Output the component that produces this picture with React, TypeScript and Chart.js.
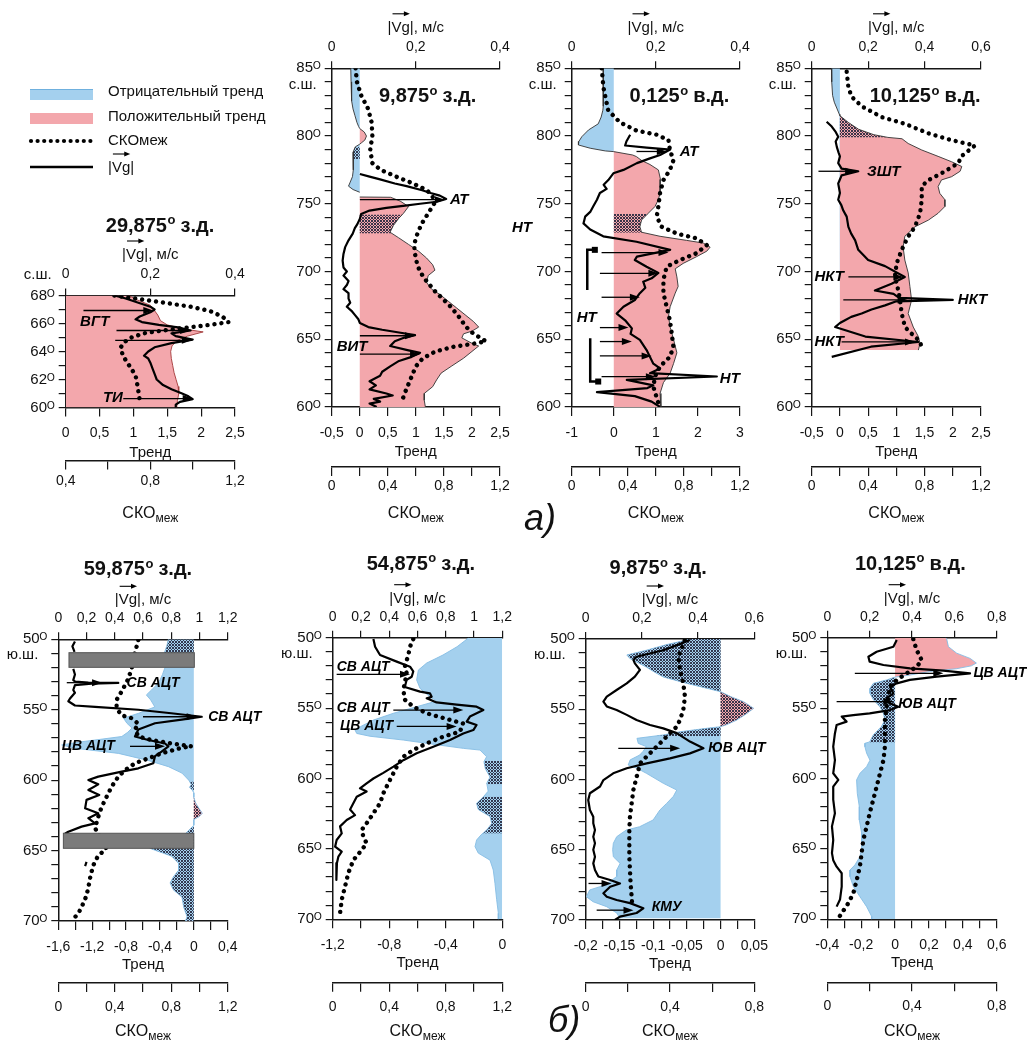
import React, { useEffect, useRef } from 'react';
import { Chart, registerables } from 'chart.js';

Chart.register(...registerables);

type Pt = [number, number | null];
type Arrow = [number, number, number];
type Label = [string, number, number];

// ===== а) 29,875 з.д. =====
const a1Trend: Pt[] = [[68.0, 0.93], [67.7, 1.05], [67.3, 1.25], [67.0, 1.3], [66.6, 1.36], [66.2, 1.4], [65.9, 1.5], [65.6, 1.75], [65.4, 2.03], [65.1, 1.8], [64.8, 1.65], [64.4, 1.57], [64.0, 1.55], [63.5, 1.56], [63.0, 1.58], [62.5, 1.6], [62.0, 1.63], [61.5, 1.66], [61.0, 1.67], [60.5, 1.65], [60.0, 1.64]];
const a1Vg: Pt[] = [[68.0, 0.115], [67.8, 0.14], [67.5, 0.17], [67.2, 0.2], [67.0, 0.21], [66.8, 0.2], [66.5, 0.175], [66.3, 0.165], [66.1, 0.18], [65.9, 0.22], [65.7, 0.27], [65.5, 0.295], [65.3, 0.25], [65.1, 0.26], [64.85, 0.3], [64.6, 0.25], [64.3, 0.21], [64.0, 0.195], [63.7, 0.185], [63.5, 0.195], [63.2, 0.2], [62.8, 0.205], [62.4, 0.21], [62.0, 0.215], [61.6, 0.23], [61.3, 0.25], [61.0, 0.275], [60.8, 0.29], [60.6, 0.3], [60.4, 0.27], [60.2, 0.26], [60.0, 0.26]];
const a1Sko: Pt[] = [[68.0, 0.63], [67.8, 0.72], [67.5, 0.86], [67.2, 0.99], [66.9, 1.08], [66.5, 1.14], [66.1, 1.17], [65.9, 1.08], [65.7, 0.97], [65.5, 0.86], [65.3, 0.77], [65.0, 0.71], [64.7, 0.68], [64.3, 0.66], [63.7, 0.67], [63.0, 0.7], [62.3, 0.73], [61.5, 0.74], [60.5, 0.75]];
const a1Hatch: [number, number][] = [];
const a1Arrows: Arrow[] = [[66.93, 0.042, 0.207], [65.5, 0.12, 0.294], [64.8, 0.117, 0.298], [60.64, 0.136, 0.3]];
const a1Labels: Label[] = [['ВГТ', 66.1, 0.034], ['ТИ', 60.7, 0.088]];
const a1LatTicks = [60, 68, 1, 2];
const a1VgTicks = [0, 0.4, 0.2, 0.2];
const a1TrendTicks = [0, 2.5, 0.5, 0.5];
const a1SkoTicks = [0.4, 1.2, 0.2, 0.4];

// ===== а) 9,875 з.д. =====
const a2Trend: Pt[] = [[85.0, -0.16], [84.0, -0.155], [83.0, -0.15], [82.6, -0.14], [82.0, -0.12], [81.5, -0.085], [81.0, -0.05], [80.7, -0.02], [80.55, 0], [80.3, 0.08], [80.0, 0.12], [79.7, 0.09], [79.5, 0.03], [79.4, 0], [79.2, -0.08], [78.8, -0.12], [78.0, -0.12], [77.5, -0.11], [77.0, -0.13], [76.6, -0.17], [76.3, -0.2], [76.05, -0.12], [75.85, 0], [75.8, null], [75.5, 0], [75.48, 0.55], [75.2, 0.72], [74.8, 0.87], [74.3, 0.78], [73.9, 0.69], [73.4, 0.6], [72.9, 0.54], [72.5, 0.69], [72.0, 0.87], [71.5, 1.05], [71.0, 1.19], [70.5, 1.3], [70.1, 1.34], [69.7, 1.22], [69.2, 1.19], [68.7, 1.28], [68.3, 1.43], [67.8, 1.58], [67.3, 1.73], [66.8, 1.88], [66.3, 2.03], [65.9, 2.12], [65.6, 2.0], [65.4, 1.85], [65.1, 1.82], [64.7, 2.0], [64.5, 2.12], [64.1, 2.0], [63.6, 1.85], [63.0, 1.63], [62.5, 1.45], [62.0, 1.37], [61.5, 1.3], [61.0, 1.15], [60.5, 1.15], [60.0, 1.17]];
const a2Vg: Pt[] = [[77.2, 0.067], [77.0, 0.09], [76.8, 0.115], [76.5, 0.15], [76.3, 0.178], [76.0, 0.215], [75.8, 0.235], [75.6, 0.257], [75.35, 0.272], [75.15, 0.25], [75.0, 0.21], [74.85, 0.17], [74.7, 0.13], [74.5, 0.09], [74.25, 0.07], [73.9, 0.067], [73.5, 0.061], [73.2, 0.055], [72.8, 0.05], [72.3, 0.04], [71.8, 0.032], [71.3, 0.028], [70.8, 0.026], [70.3, 0.028], [70.0, 0.036], [69.7, 0.028], [69.3, 0.04], [69.0, 0.036], [68.7, 0.028], [68.4, 0.04], [68.0, 0.04], [67.7, 0.044], [67.4, 0.036], [67.1, 0.047], [66.8, 0.055], [66.5, 0.063], [66.2, 0.067], [65.9, 0.087], [65.7, 0.12], [65.5, 0.16], [65.3, 0.198], [65.1, 0.17], [64.85, 0.15], [64.5, 0.139], [64.2, 0.18], [64.0, 0.21], [63.7, 0.19], [63.4, 0.16], [63.0, 0.139], [62.6, 0.12], [62.3, 0.115], [61.9, 0.09], [61.6, 0.105], [61.3, 0.09], [61.0, 0.13], [60.85, 0.145], [60.6, 0.1], [60.4, 0.115], [60.25, 0.09], [60.0, 0.107]];
const a2Sko: Pt[] = [[85, 0.17], [84, 0.18], [83, 0.21], [82, 0.26], [81, 0.285], [80, 0.29], [79, 0.275], [78, 0.29], [77.5, 0.35], [77, 0.46], [76.5, 0.58], [76, 0.68], [75.5, 0.72], [75, 0.73], [74.5, 0.7], [74, 0.67], [73.5, 0.64], [73, 0.62], [72.5, 0.6], [72, 0.59], [71.5, 0.59], [71, 0.6], [70.5, 0.61], [70, 0.63], [69.5, 0.66], [69, 0.7], [68.5, 0.74], [68, 0.79], [67.5, 0.84], [67, 0.88], [66.5, 0.92], [66, 0.95], [65.5, 1.0], [65.1, 1.06], [64.85, 1.1], [64.65, 1.0], [64.45, 0.87], [64.1, 0.74], [63.6, 0.65], [63, 0.6], [62, 0.56], [61, 0.52], [60.4, 0.5]];
const a2Hatch: [number, number][] = [[78.3, 79.2], [72.8, 74.2]];
const a2Arrows: Arrow[] = [[75.3, 0.067, 0.269], [65.26, 0.067, 0.198], [63.9, 0.067, 0.21]];
const a2Labels: Label[] = [['АТ', 75.28, 0.281], ['ВИТ', 64.45, 0.012]];
const a2LatTicks = [60, 85, 1, 5];
const a2VgTicks = [0, 0.4, 0.2, 0.2];
const a2TrendTicks = [-0.5, 2.5, 0.5, 0.5];
const a2SkoTicks = [0, 1.2, 0.2, 0.4];

// ===== а) 0,125 в.д. =====
const a3Trend: Pt[] = [[85.0, -0.25], [84.0, -0.25], [83.0, -0.25], [82.2, -0.25], [81.9, -0.26], [81.4, -0.3], [80.9, -0.37], [80.45, -0.6], [79.95, -0.76], [79.6, -0.83], [79.34, -0.84], [79.1, -0.56], [78.9, -0.2], [78.85, 0], [78.6, 0.45], [78.48, 0.54], [78.2, 0.66], [77.9, 0.86], [77.5, 1.06], [76.8, 1.11], [75.8, 1.1], [75.3, 1.06], [74.8, 0.98], [74.3, 0.82], [73.8, 0.66], [73.3, 0.62], [72.9, 0.66], [72.6, 1.1], [72.3, 1.73], [72.1, 2.13], [71.8, 2.29], [71.5, 2.21], [71.1, 1.97], [70.6, 1.65], [70.2, 1.46], [69.6, 1.5], [68.9, 1.53], [68.4, 1.46], [67.4, 1.34], [66.7, 1.3], [65.9, 1.34], [65.0, 1.42], [64.0, 1.5], [63.2, 1.42], [62.5, 1.34], [61.8, 1.18], [61.0, 1.1], [60.0, 1.12]];
const a3Vg: Pt[] = [[80.1, 0.139], [79.6, 0.13], [79.3, 0.127], [79.15, 0.178], [79.0, 0.234], [78.6, 0.21], [78.35, 0.186], [78.0, 0.155], [77.5, 0.123], [77.25, 0.099], [76.75, 0.087], [76.4, 0.076], [76.1, 0.083], [75.8, 0.067], [75.3, 0.06], [74.8, 0.051], [74.4, 0.044], [74.05, 0.032], [73.55, 0.028], [73.1, 0.044], [72.6, 0.075], [72.2, 0.154], [71.6, 0.234], [71.1, 0.155], [70.85, 0.15], [70.35, 0.178], [69.9, 0.206], [69.5, 0.19], [69.25, 0.17], [68.8, 0.175], [68.4, 0.162], [67.9, 0.15], [67.4, 0.123], [66.9, 0.107], [66.4, 0.127], [65.8, 0.143], [65.4, 0.14], [64.95, 0.162], [64.2, 0.178], [63.7, 0.186], [63.2, 0.194], [62.85, 0.21], [62.5, 0.186], [62.25, 0.345], [62.0, 0.131], [61.6, 0.194], [61.4, 0.18], [61.1, 0.06], [60.8, 0.15], [60.4, 0.19], [60.0, 0.21]];
const a3Sko: Pt[] = [[85, 0.214], [83.6, 0.226], [81.9, 0.26], [81.0, 0.345], [80.4, 0.463], [80.1, 0.606], [79.7, 0.69], [79.0, 0.7], [78.2, 0.725], [77.5, 0.7], [76.75, 0.654], [75.8, 0.63], [74.8, 0.618], [74.05, 0.606], [73.3, 0.642], [72.8, 0.749], [72.45, 0.89], [71.95, 0.963], [71.35, 0.89], [70.85, 0.772], [70.35, 0.677], [69.4, 0.654], [68.4, 0.654], [67.4, 0.677], [66.4, 0.7], [65.45, 0.713], [64.45, 0.725], [63.7, 0.7], [63.0, 0.63], [62.25, 0.594], [61.5, 0.582], [60.3, 0.618]];
const a3Hatch: [number, number][] = [[72.87, 74.25]];
const a3Arrows: Arrow[] = [[78.86, 0.154, 0.226], [71.4, 0.071, 0.23], [69.87, 0.067, 0.206], [68.1, 0.071, 0.162], [65.86, 0.067, 0.135], [64.83, 0.067, 0.143], [63.77, 0.067, 0.19], [62.24, 0.071, 0.2]];
const a3Labels: Label[] = [['АТ', 78.82, 0.257], ['НТ', 73.2, -0.142], ['НТ', 66.55, 0.012], ['НТ', 62.1, 0.352]];
const a3Brackets: number[][] = [[71.6, 68.64, 0.037, 0.055], [61.88, 65.07, 0.044, 0.063]];
const a3LatTicks = [60, 85, 1, 5];
const a3VgTicks = [0, 0.4, 0.2, 0.2];
const a3TrendTicks = [-1, 3, 1, 1];
const a3SkoTicks = [0, 1.2, 0.2, 0.4];

// ===== а) 10,125 в.д. =====
const a4Trend: Pt[] = [[85.0, -0.15], [84.0, -0.145], [83.0, -0.13], [82.5, -0.1], [82.0, -0.05], [81.6, -0.01], [81.5, 0], [81.0, 0.15], [80.5, 0.33], [80.1, 0.6], [79.9, 0.85], [79.8, 1.1], [79.45, 1.21], [78.97, 1.45], [78.5, 1.74], [78.1, 1.98], [77.75, 2.16], [77.4, 2.13], [77.0, 1.98], [76.76, 1.8], [76.27, 1.74], [75.77, 1.77], [75.3, 1.86], [74.8, 1.86], [74.3, 1.74], [73.8, 1.57], [73.3, 1.33], [72.6, 1.15], [71.8, 1.12], [70.85, 1.15], [69.9, 1.21], [68.9, 1.24], [67.9, 1.27], [66.9, 1.21], [65.9, 1.3], [65.2, 1.39], [64.7, 1.42], [64.2, 1.39]];
const a4Vg: Pt[] = [[81.06, 0.053], [80.7, 0.071], [80.3, 0.085], [79.95, 0.094], [79.6, 0.085], [79.2, 0.089], [78.8, 0.095], [78.5, 0.1], [78.0, 0.094], [77.6, 0.106], [77.4, 0.165], [77.1, 0.106], [76.5, 0.094], [75.8, 0.1], [75.3, 0.094], [74.9, 0.105], [74.5, 0.112], [74.05, 0.124], [73.3, 0.13], [72.8, 0.14], [72.3, 0.154], [71.6, 0.165], [70.85, 0.2], [70.4, 0.26], [69.6, 0.33], [69.1, 0.283], [68.6, 0.224], [68.35, 0.29], [68.05, 0.31], [67.9, 0.5], [67.8, 0.3], [67.5, 0.26], [67.2, 0.212], [66.9, 0.177], [66.65, 0.14], [66.4, 0.118], [66.2, 0.1], [65.9, 0.083], [65.2, 0.19], [64.8, 0.378], [64.45, 0.21], [63.7, 0.071]];
const a4Sko: Pt[] = [[84.75, 0.248], [83.6, 0.26], [82.9, 0.283], [82.2, 0.354], [81.4, 0.496], [80.9, 0.661], [80.2, 0.827], [79.7, 0.99], [79.3, 1.157], [78.5, 1.06], [78.0, 1.04], [77.25, 0.92], [76.75, 0.827], [76.3, 0.78], [75.3, 0.78], [74.3, 0.768], [73.3, 0.732], [72.6, 0.685], [71.6, 0.638], [70.6, 0.602], [69.6, 0.59], [68.6, 0.614], [67.9, 0.626], [66.9, 0.638], [65.9, 0.661], [65.4, 0.709], [64.95, 0.756], [64.3, 0.79]];
const a4Hatch: [number, number][] = [[79.9, 81.5]];
const a4Arrows: Arrow[] = [[77.4, 0.024, 0.154], [69.6, 0.13, 0.325], [67.9, 0.112, 0.34], [64.8, 0.106, 0.366]];
const a4Labels: Label[] = [['ЗШТ', 77.35, 0.196], ['НКТ', 69.6, 0.01], ['НКТ', 67.9, 0.518], ['НКТ', 64.8, 0.01]];
const a4LatTicks = [60, 85, 1, 5];
const a4VgTicks = [0, 0.6, 0.2, 0.2];
const a4TrendTicks = [-0.5, 2.5, 0.5, 0.5];
const a4SkoTicks = [0, 1.2, 0.2, 0.4];

// ===== б) 59,875 з.д. =====
const b1Trend: Pt[] = [[50.0, -0.3], [50.5, -0.32], [51.0, -0.35], [51.5, -0.35], [52.0, -0.34], [52.5, -0.37], [52.9, -0.4], [53.3, -0.45], [53.6, -0.5], [53.95, -0.56], [54.3, -0.51], [54.8, -0.46], [55.25, -0.65], [55.6, -0.83], [55.96, -0.79], [56.3, -0.73], [56.6, -0.78], [56.9, -0.85], [57.1, -1.1], [57.27, -1.32], [57.5, -1.56], [57.74, -1.4], [58.1, -0.89], [58.6, -0.54], [59.04, -0.3], [59.5, -0.14], [60.0, -0.06], [60.3, -0.03], [60.5, -0.05], [60.7, -0.02], [60.9, 0], [61.2, 0], [61.6, 0.02], [62.0, 0.06], [62.35, 0.1], [62.6, 0.06], [62.8, 0], [63.2, 0], [63.5, -0.05], [63.8, -0.1], [64.3, -0.3], [64.84, -0.52], [65.1, -0.4], [65.4, -0.26], [65.9, -0.18], [66.4, -0.18], [66.85, -0.24], [67.3, -0.28], [67.8, -0.24], [68.3, -0.14], [69.0, -0.12], [69.7, -0.08], [70.0, -0.1]];
const b1Vg: Pt[] = [[50.15, 0.118], [50.5, 0.1], [50.9, 0.115], [51.0, null], [52.1, 0.106], [52.5, 0.118], [52.9, 0.106], [53.0, 0.12], [53.08, 0.213], [53.1, 0.425], [53.15, 0.236], [53.25, 0.118], [53.6, 0.106], [53.8, 0.118], [54.2, 0.083], [54.4, 0.071], [54.7, 0.118], [54.8, 0.26], [55.0, 0.567], [55.25, 0.8], [55.5, 1.016], [55.7, 0.874], [55.96, 0.685], [56.4, 0.567], [56.9, 0.543], [57.15, 0.638], [57.4, 0.756], [57.6, 0.78], [57.98, 0.732], [58.3, 0.685], [58.8, 0.673], [59.16, 0.567], [59.4, 0.449], [59.75, 0.283], [59.99, 0.213], [60.3, 0.283], [60.7, 0.213], [61.05, 0.29], [61.4, 0.2], [62.0, 0.19], [62.35, 0.283], [62.7, 0.213], [63.07, 0.26], [63.3, 0.165], [63.66, 0.071], [63.8, 0.047], [63.9, null], [65.8, 0.2], [66.1, 0.19]];
const b1Sko: Pt[] = [[50.05, 0.567], [50.95, 0.543], [52.06, 0.52], [52.8, 0.496], [53.7, 0.449], [54.3, 0.413], [54.9, 0.413], [55.4, 0.449], [55.6, 0.52], [56.0, 0.567], [56.4, 0.543], [56.9, 0.567], [57.15, 0.661], [57.4, 0.803], [57.6, 0.945], [57.7, 0.874], [58.1, 0.732], [58.45, 0.638], [58.8, 0.543], [59.3, 0.472], [59.75, 0.425], [60.46, 0.378], [61.17, 0.343], [61.9, 0.307], [62.6, 0.283], [63.4, 0.26], [64.85, 0.34], [65.4, 0.28], [66.0, 0.25], [66.7, 0.23], [67.5, 0.215], [68.2, 0.2], [68.9, 0.17], [69.5, 0.14], [69.9, 0.1]];
const b1Hatch: [number, number][] = [[50.0, 51.0], [60.1, 60.7], [61.2, 62.8], [63.3, 70.0]];
const b1Arrows: Arrow[] = [[53.08, 0.06, 0.31], [55.5, 0.6, 0.98], [57.6, 0.508, 0.756]];
const b1Labels: Label[] = [['СВ АЦТ', 53.1, 0.484], ['СВ АЦТ', 55.54, 1.062], ['ЦВ АЦТ', 57.62, 0.024]];
const b1Bars: number[][] = [[50.95, 51.99, -1.474, 0.006], [63.77, 64.84, -1.54, 0.0]];
const b1LatTicks = [50, 70, 1, 5];
const b1VgTicks = [0, 1.2, 0.2, 0.2];
const b1TrendTicks = [-1.6, 0.4, 0.2, 0.4];
const b1SkoTicks = [0, 1.2, 0.2, 0.4];

// ===== б) 54,875 з.д. =====
const b2Trend: Pt[] = [[50.0, -0.24], [50.1, -0.25], [50.64, -0.32], [51.23, -0.42], [51.8, -0.535], [52.3, -0.594], [53.0, -0.606], [53.6, -0.582], [54.2, -0.512], [54.5, -0.465], [54.9, -0.606], [55.37, -0.771], [55.85, -0.912], [56.3, -1.0], [56.56, -1.042], [56.8, -1.03], [57.0, -0.936], [57.27, -0.7], [57.6, -0.465], [57.86, -0.276], [57.98, -0.158], [58.45, -0.111], [58.8, -0.13], [59.3, -0.12], [59.9, -0.087], [60.34, -0.11], [60.9, -0.1], [61.3, -0.134], [61.76, -0.182], [62.2, -0.17], [62.7, -0.087], [63.2, -0.075], [63.66, -0.111], [64.0, -0.15], [64.37, -0.182], [64.84, -0.193], [65.3, -0.17], [65.8, -0.087], [66.5, -0.064], [67.44, -0.052], [68.6, -0.04], [69.57, -0.028], [70.0, -0.028]];
const b2Vg: Pt[] = [[50.1, 0.288], [50.64, 0.3], [51.23, 0.335], [51.7, 0.453], [52.06, 0.547], [52.4, 0.57], [52.77, 0.559], [53.0, 0.523], [53.5, 0.51], [53.83, 0.618], [53.95, 0.688], [54.2, 0.7], [54.3, 0.665], [54.6, 0.735], [54.75, 0.877], [54.9, 1.018], [55.14, 1.066], [55.6, 0.971], [55.96, 0.948], [56.2, 1.018], [56.56, 0.995], [56.8, 0.924], [57.27, 0.83], [57.74, 0.712], [58.2, 0.594], [58.7, 0.5], [59.16, 0.43], [59.6, 0.358], [60.0, 0.288], [60.34, 0.24], [60.7, 0.193], [60.93, 0.24], [61.3, 0.17], [61.76, 0.146], [62.2, 0.123], [62.6, 0.158], [62.95, 0.099], [63.4, 0.052], [63.9, 0.064], [64.37, 0.028], [64.84, 0.017], [65.2, 0.064], [65.55, 0.04], [66.0, 0.03], [66.7, 0.024], [67.2, 0.028]];
const b2Sko: Pt[] = [[50.1, 0.57], [50.64, 0.547], [51.23, 0.535], [52.06, 0.51], [52.5, 0.523], [53.24, 0.51], [53.7, 0.5], [54.4, 0.51], [54.9, 0.57], [55.37, 0.665], [55.7, 0.783], [56.1, 0.924], [56.67, 0.9], [57.03, 0.783], [57.5, 0.665], [57.98, 0.57], [58.45, 0.5], [59.16, 0.453], [60.1, 0.405], [61.05, 0.358], [61.76, 0.335], [62.47, 0.288], [63.18, 0.24], [63.66, 0.205], [64.13, 0.217], [64.6, 0.24], [65.08, 0.205], [65.8, 0.146], [66.7, 0.111], [67.68, 0.087], [68.6, 0.064], [69.57, 0.052]];
const b2Hatch: [number, number][] = [[58.76, 60.4], [61.3, 63.9]];
const b2Arrows: Arrow[] = [[52.6, 0.028, 0.547], [55.14, 0.429, 0.924], [56.3, 0.453, 0.877]];
const b2Labels: Label[] = [['СВ АЦТ', 52.06, 0.028], ['СВ АЦТ', 55.0, 0.028], ['ЦВ АЦТ', 56.3, 0.052]];
const b2LatTicks = [50, 70, 1, 5];
const b2VgTicks = [0, 1.2, 0.2, 0.2];
const b2TrendTicks = [-1.2, 0, 0.2, 0.4];
const b2SkoTicks = [0, 1.2, 0.2, 0.4];

// ===== б) 9,875 з.д. =====
const b3Trend: Pt[] = [[50.0, -0.048], [50.07, -0.05], [50.4, -0.08], [50.8, -0.11], [51.14, -0.139], [51.4, -0.134], [52.0, -0.11], [52.3, -0.1], [52.7, -0.085], [53.16, -0.05], [53.5, -0.021], [53.75, 0], [54.1, 0.015], [54.46, 0.034], [54.93, 0.049], [55.3, 0.039], [55.77, 0.024], [56.1, 0.009], [56.24, 0], [56.36, -0.021], [56.6, -0.06], [56.83, -0.085], [57.07, -0.124], [57.43, -0.122], [57.66, -0.11], [58.0, -0.115], [58.26, -0.12], [58.6, -0.134], [58.97, -0.137], [59.2, -0.124], [59.56, -0.11], [60.27, -0.085], [60.75, -0.065], [61.2, -0.07], [61.7, -0.08], [62.17, -0.09], [62.88, -0.1], [63.36, -0.12], [63.6, -0.14], [64.07, -0.154], [64.54, -0.159], [65.0, -0.16], [65.5, -0.159], [65.97, -0.149], [66.44, -0.154], [66.9, -0.154], [67.27, -0.164], [67.63, -0.179], [67.86, -0.194], [68.34, -0.199], [68.7, -0.189], [69.05, -0.169], [69.5, -0.154], [69.9, -0.149]];
const b3Vg: Pt[] = [[50.07, 0.371], [50.4, 0.33], [50.8, 0.276], [51.26, 0.181], [51.5, 0.17], [51.73, 0.175], [52.2, 0.193], [52.68, 0.175], [53.16, 0.146], [53.63, 0.11], [54.1, 0.075], [54.46, 0.063], [54.8, 0.075], [55.05, 0.11], [55.4, 0.146], [55.77, 0.181], [56.12, 0.229], [56.36, 0.276], [56.7, 0.324], [57.3, 0.371], [57.78, 0.419], [58.14, 0.371], [58.5, 0.3], [58.85, 0.217], [59.2, 0.146], [59.56, 0.098], [60.04, 0.063], [60.5, 0.051], [60.98, 0.015], [61.46, 0.009], [62.17, 0.015], [62.65, 0.027], [63.12, 0.027], [63.6, 0.033], [64.07, 0.027], [64.54, 0.033], [65.0, 0.027], [65.5, 0.033], [65.97, 0.027], [66.44, 0.033], [66.9, 0.045], [67.15, 0.087], [67.4, 0.122], [67.63, 0.087], [68.1, 0.063], [68.34, 0.075], [68.58, 0.11], [68.8, 0.158], [69.17, 0.205], [69.5, 0.181], [69.76, 0.122], [70.0, 0.104]];
const b3Sko: Pt[] = [[50.1, 0.47], [51.26, 0.44], [52.2, 0.447], [53.16, 0.463], [54.1, 0.471], [55.05, 0.463], [55.77, 0.447], [56.24, 0.432], [56.95, 0.384], [57.66, 0.337], [58.37, 0.289], [58.85, 0.258], [59.8, 0.242], [60.75, 0.226], [61.7, 0.218], [62.65, 0.21], [63.6, 0.207], [64.54, 0.207], [65.5, 0.207], [66.44, 0.21], [67.4, 0.213], [68.34, 0.218], [69.05, 0.221]];
const b3Hatch: [number, number][] = [[50.0, 56.9]];
const b3Arrows: Arrow[] = [[57.78, 0.116, 0.336], [67.4, 0.01, 0.092], [69.3, 0.039, 0.17]];
const b3Labels: Label[] = [['ЮВ АЦТ', 57.78, 0.436], ['КМУ', 69.05, 0.235]];
const b3LatTicks = [50, 70, 1, 5];
const b3VgTicks = [0, 0.6, 0.2, 0.2];
const b3TrendTicks = [-0.2, 0.05, 0.025, 0.05];
const b3SkoTicks = [0, 0.8, 0.2, 0.4];

// ===== б) 10,125 в.д. =====
const b4Trend: Pt[] = [[50.0, 0.3], [50.1, 0.305], [50.64, 0.315], [51.1, 0.364], [51.47, 0.443], [51.8, 0.48], [52.0, 0.45], [52.2, 0.364], [52.4, 0.205], [52.65, 0.088], [52.8, 0], [53.0, -0.05], [53.24, -0.128], [53.6, -0.148], [53.95, -0.148], [54.4, -0.128], [54.9, -0.089], [55.37, -0.069], [55.85, -0.06], [56.3, -0.08], [56.9, -0.128], [57.4, -0.15], [57.5, -0.178], [57.74, -0.178], [58.2, -0.168], [58.7, -0.148], [59.16, -0.168], [59.63, -0.207], [60.1, -0.227], [61.05, -0.223], [62.0, -0.211], [62.95, -0.211], [63.9, -0.197], [64.84, -0.197], [65.55, -0.207], [66.14, -0.237], [66.5, -0.266], [66.97, -0.266], [67.68, -0.246], [68.4, -0.207], [69.1, -0.168], [69.8, -0.138], [70.0, -0.138]];
const b4Vg: Pt[] = [[50.17, 0.328], [50.64, 0.312], [51.0, 0.233], [51.35, 0.194], [51.7, 0.2], [51.94, 0.265], [52.18, 0.39], [52.34, 0.548], [52.53, 0.674], [52.77, 0.517], [53.0, 0.39], [53.24, 0.328], [53.48, 0.296], [53.95, 0.312], [54.3, 0.28], [54.66, 0.296], [54.9, 0.335], [55.14, 0.296], [55.37, 0.2], [55.5, 0.123], [55.6, 0.068], [55.96, 0.091], [56.2, 0.044], [56.8, 0.036], [57.74, 0.028], [58.7, 0.036], [59.63, 0.028], [60.1, 0.052], [60.58, 0.028], [61.5, 0.028], [62.47, 0.036], [63.4, 0.022], [64.37, 0.028], [65.3, 0.022], [65.8, 0.028], [66.26, 0.044], [66.73, 0.068], [67.68, 0.068], [68.6, 0.06], [69.1, 0.044]];
const b4Sko: Pt[] = [[50.1, 0.406], [50.88, 0.422], [51.6, 0.446], [52.06, 0.422], [52.53, 0.375], [53.0, 0.328], [53.48, 0.296], [54.2, 0.288], [54.9, 0.28], [55.85, 0.272], [56.8, 0.272], [57.74, 0.272], [58.7, 0.265], [59.63, 0.249], [60.58, 0.233], [61.5, 0.217], [62.47, 0.2], [63.4, 0.186], [64.37, 0.17], [65.3, 0.162], [66.26, 0.154], [67.2, 0.139], [68.15, 0.123], [68.86, 0.099], [69.57, 0.068], [69.93, 0.052]];
const b4Hatch: [number, number][] = [[52.8, 57.45]];
const b4Arrows: Arrow[] = [[52.53, 0.13, 0.548], [54.54, 0.044, 0.312]];
const b4Labels: Label[] = [['ЦВ АЦТ', 52.53, 0.69], ['ЮВ АЦТ', 54.73, 0.335]];
const b4LatTicks = [50, 70, 1, 5];
const b4VgTicks = [0, 0.8, 0.2, 0.2];
const b4TrendTicks = [-0.4, 0.6, 0.1, 0.2];
const b4SkoTicks = [0, 0.8, 0.2, 0.4];

// ===== styles / layout =====
const FONT = '"Liberation Sans", Arial, Helvetica, sans-serif';
const INK = '#161616';
const BLUE = '#a4d0ee';
const RED = '#f3a7ac';

const fmt = (v: number) => String(Math.round(v * 1000) / 1000).replace('.', ',');
const isMult = (v: number, s: number) => Math.abs(v / s - Math.round(v / s)) < 1e-6;

function splitSign(src: Pt[], sign: number) {
  const out: any[] = [];
  for (let i = 0; i < src.length; i++) {
    const [lat, v] = src[i];
    if (v === null) { out.push({ x: null, y: lat }); continue; }
    if (i > 0) {
      const [pl, pv] = src[i - 1];
      if (pv !== null && pv * v < 0) {
        const t = pv / (pv - v);
        out.push({ x: 0, y: pl + t * (lat - pl) });
      }
    }
    out.push({ x: sign > 0 ? Math.max(v, 0) : Math.min(v, 0), y: lat });
  }
  return out;
}

function clipRange(src: Pt[], a: number, b: number) {
  const lo = Math.min(a, b), hi = Math.max(a, b);
  const out: any[] = [];
  for (let i = 0; i < src.length; i++) {
    const [lat, v] = src[i];
    if (i > 0) {
      const [pl, pv] = src[i - 1];
      if (pv !== null && v !== null) {
        const cr: [number, number][] = [];
        for (const e of [lo, hi]) {
          if ((pl - e) * (lat - e) < 0) cr.push([(e - pl) / (lat - pl), e]);
        }
        cr.sort((p, q) => p[0] - q[0]);
        for (const [t, e] of cr) out.push({ x: pv + t * (v - pv), y: e });
      }
    }
    if (v !== null && lat >= lo - 1e-9 && lat <= hi + 1e-9) out.push({ x: v, y: lat });
  }
  return out;
}

function hatchPattern(): any {
  const c = document.createElement('canvas');
  c.width = 3; c.height = 3;
  const g = c.getContext('2d')!;
  g.fillStyle = 'rgba(38,40,62,0.9)';
  for (const [x, y] of [[0, 0], [1, 1], [2, 2], [1, 2], [2, 1]]) g.fillRect(x, y, 1, 1);
  return g.createPattern(c, 'repeat');
}

function drawArrow(ctx: CanvasRenderingContext2D, x1: number, y: number, x2: number, lw = 1.3, hl = 10, hw = 3.5) {
  const d = Math.sign(x2 - x1) || 1;
  ctx.beginPath();
  ctx.moveTo(x1, y);
  ctx.lineTo(x2 - d * hl * 0.7, y);
  ctx.lineWidth = lw;
  ctx.strokeStyle = '#000';
  ctx.stroke();
  ctx.beginPath();
  ctx.moveTo(x2, y);
  ctx.lineTo(x2 - d * hl, y - hw);
  ctx.lineTo(x2 - d * hl, y + hw);
  ctx.closePath();
  ctx.fillStyle = '#000';
  ctx.fill();
}

function drawVgText(ctx: CanvasRenderingContext2D, text: string, x: number, y: number, align: 'center' | 'left', size: number) {
  ctx.font = `${size}px ${FONT}`;
  const w = ctx.measureText(text).width;
  const wp = ctx.measureText('|').width;
  const wv = ctx.measureText('Vg').width;
  const x0 = align === 'center' ? x - w / 2 : x;
  ctx.textAlign = 'left';
  ctx.textBaseline = 'middle';
  ctx.fillStyle = '#111';
  ctx.fillText(text, x0, y);
  const ax = x0 + wp + 1;
  drawArrow(ctx, ax, y - 14, ax + wv - 1, 1.1, 6, 2.5);
}

function drawDegTitle(ctx: CanvasRenderingContext2D, main: string, suffix: string, cx: number, cy: number) {
  const size = 20;
  ctx.font = `bold ${size}px ${FONT}`;
  const w1 = ctx.measureText(main).width;
  const w3 = ctx.measureText(' ' + suffix).width;
  ctx.font = `bold 13px ${FONT}`;
  const w2 = ctx.measureText('o').width;
  let x = cx - (w1 + w2 + w3) / 2;
  const base = cy + 7;
  ctx.textAlign = 'left';
  ctx.textBaseline = 'alphabetic';
  ctx.fillStyle = '#111';
  ctx.font = `bold ${size}px ${FONT}`;
  ctx.fillText(main, x, base);
  x += w1;
  ctx.font = `bold 13px ${FONT}`;
  ctx.fillText('o', x + 0.5, base - 7.5);
  x += w2;
  ctx.font = `bold ${size}px ${FONT}`;
  ctx.fillText(' ' + suffix, x, base);
}

interface Panel {
  id: string; title: [string, string]; north: boolean;
  trend: Pt[]; vg: Pt[]; sko: Pt[]; hatch: [number, number][]; arrows: Arrow[]; labels: Label[];
  latT: number[]; vgT: number[]; trT: number[]; skT: number[];
  bars?: number[][]; brackets?: number[][];
  box: number[]; area: number[];
  hTop: number; hTrend: number; tt: number; hSko: number; skoPad: number; skoTitle: number;
  titlePos: number[]; hemi: number[]; edge: string; edgeW: number; legend?: boolean; labelSize: number;
}

const TOP = { hTop: 48, hSko: 60, edgeW: 0.9, labelSize: 15, north: true };
const BOT = { hTop: 46.5, hSko: 58, edgeW: 0.9, labelSize: 14, north: false, skoPad: 6.5, skoTitle: 49, hemi: [-20, 16], edge: '#86bde4' };

const panels: Panel[] = [
  { ...TOP, id: 'a1', title: ['29,875', 'з.д.'], trend: a1Trend, vg: a1Vg, sko: a1Sko, hatch: a1Hatch, arrows: a1Arrows, labels: a1Labels, latT: a1LatTicks, vgT: a1VgTicks, trT: a1TrendTicks, skT: a1SkoTicks, box: [0, 0, 285, 545], area: [65.7, 295.5, 235, 407.5], hTrend: 53, tt: 45.5, skoPad: 3, skoTitle: 53, titlePos: [0.557, -71], hemi: [-14, -21], edge: '#a33a3a', legend: true },
  { ...TOP, id: 'a2', title: ['9,875', 'з.д.'], trend: a2Trend, vg: a2Vg, sko: a2Sko, hatch: a2Hatch, arrows: a2Arrows, labels: a2Labels, latT: a2LatTicks, vgT: a2VgTicks, trT: a2TrendTicks, skT: a2SkoTicks, box: [280, 0, 250, 545], area: [331.7, 68.3, 500, 407], hTrend: 60, tt: 45, skoPad: 2, skoTitle: 47, titlePos: [0.57, 27], hemi: [-15, 17], edge: '#333' },
  { ...TOP, id: 'a3', title: ['0,125', 'в.д.'], trend: a3Trend, vg: a3Vg, sko: a3Sko, hatch: a3Hatch, arrows: a3Arrows, labels: a3Labels, brackets: a3Brackets, latT: a3LatTicks, vgT: a3VgTicks, trT: a3TrendTicks, skT: a3SkoTicks, box: [505, 0, 265, 545], area: [571.7, 68.3, 740, 407], hTrend: 60, tt: 45, skoPad: 2, skoTitle: 47, titlePos: [0.64, 27], hemi: [-15, 17], edge: '#333' },
  { ...TOP, id: 'a4', title: ['10,125', 'в.д.'], trend: a4Trend, vg: a4Vg, sko: a4Sko, hatch: a4Hatch, arrows: a4Arrows, labels: a4Labels, latT: a4LatTicks, vgT: a4VgTicks, trT: a4TrendTicks, skT: a4SkoTicks, box: [760, 0, 267, 545], area: [811.7, 68.3, 981, 407], hTrend: 60, tt: 45, skoPad: 2, skoTitle: 47, titlePos: [0.67, 27], hemi: [-15, 17], edge: '#333' },
  { ...BOT, id: 'b1', title: ['59,875', 'з.д.'], trend: b1Trend, vg: b1Vg, sko: b1Sko, hatch: b1Hatch, arrows: b1Arrows, labels: b1Labels, bars: b1Bars, latT: b1LatTicks, vgT: b1VgTicks, trT: b1TrendTicks, skT: b1SkoTicks, box: [0, 535, 285, 508], area: [58.3, 639.3, 227.7, 921], hTrend: 62, tt: 44, titlePos: [0.47, -71] },
  { ...BOT, id: 'b2', title: ['54,875', 'з.д.'], trend: b2Trend, vg: b2Vg, sko: b2Sko, hatch: b2Hatch, arrows: b2Arrows, labels: b2Labels, latT: b2LatTicks, vgT: b2VgTicks, trT: b2TrendTicks, skT: b2SkoTicks, box: [265, 535, 260, 508], area: [332.7, 637.7, 502.3, 919.3], hTrend: 63.5, tt: 44, titlePos: [0.52, -75] },
  { ...BOT, id: 'b3', title: ['9,875', 'з.д.'], trend: b3Trend, vg: b3Vg, sko: b3Sko, hatch: b3Hatch, arrows: b3Arrows, labels: b3Labels, latT: b3LatTicks, vgT: b3VgTicks, trT: b3TrendTicks, skT: b3SkoTicks, box: [515, 535, 265, 508], area: [585.7, 639, 754.3, 920], hTrend: 63, tt: 44, titlePos: [0.43, -72] },
  { ...BOT, id: 'b4', title: ['10,125', 'в.д.'], trend: b4Trend, vg: b4Vg, sko: b4Sko, hatch: b4Hatch, arrows: b4Arrows, labels: b4Labels, latT: b4LatTicks, vgT: b4VgTicks, trT: b4TrendTicks, skT: b4SkoTicks, box: [765, 535, 262, 508], area: [827.3, 637.7, 996.7, 919.3], hTrend: 63, tt: 44, titlePos: [0.49, -75] },
];

function axisBase(extra: any) {
  return {
    type: 'linear',
    grid: { drawOnChartArea: false, drawTicks: true, color: INK, lineWidth: 1.2, tickLength: 8 },
    border: { display: true, color: INK, width: 1.5 },
    ...extra,
  };
}

function makeConfig(p: Panel): any {
  const [cl, ct, cw, ch] = p.box;
  const [L, T, R, B] = p.area;
  const padding = { left: 0, top: T - ct - p.hTop, right: cl + cw - R, bottom: ct + ch - B - p.hTrend - p.hSko };
  const pattern = hatchPattern();
  const xy = (arr: Pt[]) => arr.map(([lat, v]) => ({ x: v, y: lat }));
  const common = { yAxisID: 'y', pointRadius: 0, pointHoverRadius: 0, tension: 0 };
  const datasets: any[] = [];
  datasets.push({ ...common, label: '|Vg|', data: xy(p.vg), xAxisID: 'xv', borderColor: '#000', borderWidth: 2.2, borderJoinStyle: 'round', fill: false });
  datasets.push({ ...common, label: 'СКОмеж', data: xy(p.sko), xAxisID: 'xs', borderColor: '#000', borderWidth: 4.4, borderDash: [0.01, 7], borderCapStyle: 'round', fill: false });
  datasets.push({ ...common, label: 'Тренд', data: xy(p.trend), xAxisID: 'x', borderColor: p.edge, borderWidth: p.edgeW, fill: false });
  p.hatch.forEach(([a, b]) => {
    datasets.push({ ...common, label: 'значимость', data: clipRange(p.trend, a, b), xAxisID: 'x', borderColor: 'rgba(0,0,0,0)', borderWidth: 0, backgroundColor: pattern, fill: { value: 0 } });
  });
  datasets.push({ ...common, label: 'Положительный тренд', data: splitSign(p.trend, 1), xAxisID: 'x', borderColor: 'rgba(0,0,0,0)', borderWidth: 0, backgroundColor: RED, fill: { value: 0 } });
  datasets.push({ ...common, label: 'Отрицательный тренд', data: splitSign(p.trend, -1), xAxisID: 'x', borderColor: 'rgba(0,0,0,0)', borderWidth: 0, backgroundColor: BLUE, fill: { value: 0 } });

  const tickFont = { family: FONT, size: 14 };
  const titleFont = { family: FONT, size: 15, lineHeight: 1 };
  const [latMin, latMax, latStep, latLab] = p.latT;
  const [vMin, vMax, vStep, vLab] = p.vgT;
  const [tMin, tMax, tStep, tLab] = p.trT;
  const [sMin, sMax, sStep, sLab] = p.skT;
  const yW = L - cl;

  const deco = {
    id: 'deco_' + p.id,
    afterDatasetsDraw(chart: any) {
      const ctx: CanvasRenderingContext2D = chart.ctx;
      const sx = chart.scales.xv, st = chart.scales.x, sy = chart.scales.y;
      ctx.save();
      (p.bars || []).forEach(([l1, l2, t1, t2]) => {
        const x1 = st.getPixelForValue(t1), x2 = st.getPixelForValue(t2);
        const y1 = sy.getPixelForValue(l1), y2 = sy.getPixelForValue(l2);
        ctx.fillStyle = '#7b7b7b';
        ctx.fillRect(x1, y1, x2 - x1, y2 - y1);
        ctx.strokeStyle = '#555';
        ctx.lineWidth = 1;
        ctx.strokeRect(x1, y1, x2 - x1, y2 - y1);
      });
      p.arrows.forEach(([lat, a, b]) => {
        drawArrow(ctx, sx.getPixelForValue(a), sy.getPixelForValue(lat), sx.getPixelForValue(b));
      });
      (p.brackets || []).forEach(([l1, l2, v1, v2]) => {
        const x1 = sx.getPixelForValue(v1), x2 = sx.getPixelForValue(v2);
        const y1 = sy.getPixelForValue(l1), y2 = sy.getPixelForValue(l2);
        ctx.strokeStyle = '#000';
        ctx.lineWidth = 2.5;
        ctx.beginPath();
        ctx.moveTo(x1, y2);
        ctx.lineTo(x1, y1);
        ctx.lineTo(x2, y1);
        ctx.stroke();
        ctx.fillStyle = '#000';
        ctx.fillRect(x2 - 3, y1 - 3, 6, 6);
      });
      ctx.font = `italic bold ${p.labelSize}px ${FONT}`;
      ctx.fillStyle = '#000';
      ctx.textAlign = 'left';
      ctx.textBaseline = 'middle';
      p.labels.forEach(([txt, lat, v]) => {
        ctx.fillText(txt, sx.getPixelForValue(v), sy.getPixelForValue(lat));
      });
      ctx.restore();
    },
    afterDraw(chart: any) {
      const ctx: CanvasRenderingContext2D = chart.ctx;
      const area = chart.chartArea;
      ctx.save();
      drawDegTitle(ctx, p.title[0], p.title[1], area.left + p.titlePos[0] * (area.right - area.left), area.top + p.titlePos[1]);
      ctx.font = `15px ${FONT}`;
      ctx.textAlign = 'right';
      ctx.textBaseline = 'middle';
      ctx.fillStyle = '#111';
      ctx.fillText(p.north ? 'с.ш.' : 'ю.ш.', area.left + p.hemi[0], area.top + p.hemi[1]);
      const sv = chart.scales.xv;
      const tY = sv.top + 7.5;
      ctx.font = `15px ${FONT}`;
      const fullW = ctx.measureText('|Vg|, м/с').width;
      const wp = ctx.measureText('|').width;
      const wv = ctx.measureText('Vg').width;
      const x0 = (sv.left + sv.right) / 2 - fullW / 2 + wp + 1;
      drawArrow(ctx, x0, tY - 14, x0 + wv - 1, 1.1, 6, 2.5);
      const ss = chart.scales.xs;
      const cy = ss.top + p.skoTitle;
      ctx.font = `16px ${FONT}`;
      const w1 = ctx.measureText('СКО').width;
      ctx.font = `12px ${FONT}`;
      const w2 = ctx.measureText('меж').width;
      const sx0 = (ss.left + ss.right) / 2 - (w1 + w2) / 2;
      ctx.textAlign = 'left';
      ctx.textBaseline = 'middle';
      ctx.fillStyle = '#111';
      ctx.font = `16px ${FONT}`;
      ctx.fillText('СКО', sx0, cy);
      ctx.font = `12px ${FONT}`;
      ctx.fillText('меж', sx0 + w1, cy + 5);
      if (p.legend) {
        ctx.fillStyle = BLUE;
        ctx.fillRect(30, 89, 63, 11);
        ctx.strokeStyle = '#6fb0de';
        ctx.lineWidth = 1;
        ctx.beginPath(); ctx.moveTo(30, 89.5); ctx.lineTo(93, 89.5); ctx.stroke();
        ctx.fillStyle = RED;
        ctx.fillRect(30, 113, 63, 11);
        ctx.fillStyle = '#000';
        for (let i = 0; i < 10; i++) {
          ctx.beginPath(); ctx.arc(31 + i * 6.6, 141, 2.1, 0, Math.PI * 2); ctx.fill();
        }
        ctx.strokeStyle = '#000';
        ctx.lineWidth = 2.5;
        ctx.beginPath(); ctx.moveTo(30, 167); ctx.lineTo(93, 167); ctx.stroke();
        ctx.font = `15px ${FONT}`;
        ctx.fillStyle = '#111';
        ctx.textAlign = 'left';
        ctx.textBaseline = 'middle';
        ctx.fillText('Отрицательный тренд', 108, 92);
        ctx.fillText('Положительный тренд', 108, 117);
        ctx.fillText('СКОмеж', 108, 141);
        drawVgText(ctx, '|Vg|', 108, 168, 'left', 15);
      }
      ctx.restore();
    },
  };

  return {
    type: 'line',
    data: { datasets },
    plugins: [deco],
    options: {
      animation: false,
      responsive: false,
      indexAxis: 'y',
      events: [],
      layout: { autoPadding: false, padding },
      plugins: { legend: { display: false }, tooltip: { enabled: false }, title: { display: false } },
      scales: {
        y: axisBase({
          position: 'left', min: latMin, max: latMax, reverse: !p.north,
          afterFit: (s: any) => { s.width = yW; s.paddingTop = 0; s.paddingBottom = 0; },
          grid: { drawOnChartArea: false, drawTicks: true, color: INK, lineWidth: 1.2, tickLength: 7 },
          ticks: { stepSize: latStep, autoSkip: false, color: '#111', padding: 4, font: { family: FONT, size: 15 }, callback: (v: number) => (isMult(v, latLab) ? `${Math.round(v)}ᴼ` : '') },
        }),
        xv: axisBase({
          position: 'top', min: vMin, max: vMax,
          afterFit: (s: any) => { s.height = p.hTop; s.paddingLeft = 0; s.paddingRight = 0; },
          grid: { drawOnChartArea: false, drawTicks: true, color: INK, lineWidth: 1.2, tickLength: 7 },
          ticks: { stepSize: vStep, autoSkip: false, maxRotation: 0, minRotation: 0, color: '#111', padding: 5.5, font: tickFont, callback: (v: number) => (isMult(v, vLab) ? fmt(v) : '') },
          title: { display: true, text: '|Vg|, м/с', color: '#111', font: titleFont, padding: 0 },
        }),
        x: axisBase({
          position: 'bottom', weight: 0, min: tMin, max: tMax,
          afterFit: (s: any) => { s.height = p.hTrend; s.paddingLeft = 0; s.paddingRight = 0; },
          grid: { drawOnChartArea: false, drawTicks: true, color: INK, lineWidth: 1.2, tickLength: 9 },
          ticks: { stepSize: tStep, autoSkip: false, maxRotation: 0, minRotation: 0, color: '#111', padding: 8.5, font: tickFont, callback: (v: number) => (isMult(v, tLab) ? fmt(v) : '') },
          title: { display: true, text: 'Тренд', color: '#111', font: titleFont, padding: { top: 0, bottom: Math.max(0, p.hTrend - p.tt - 7.5) } },
        }),
        xs: axisBase({
          position: 'bottom', weight: 1, min: sMin, max: sMax,
          afterFit: (s: any) => { s.height = p.hSko; s.paddingLeft = 0; s.paddingRight = 0; },
          grid: { drawOnChartArea: false, drawTicks: true, color: INK, lineWidth: 1.2, tickLength: 9 },
          ticks: { stepSize: sStep, autoSkip: false, maxRotation: 0, minRotation: 0, color: '#111', padding: p.skoPad, font: tickFont, callback: (v: number) => (isMult(v, sLab) ? fmt(v) : '') },
          title: { display: false },
        }),
      },
    },
  };
}

function PanelChart({ p }: { p: Panel }) {
  const ref = useRef<HTMLCanvasElement>(null);
  useEffect(() => {
    const chart = new Chart(ref.current as HTMLCanvasElement, makeConfig(p));
    return () => chart.destroy();
  }, [p]);
  const [l, t, w, h] = p.box;
  return <canvas ref={ref} width={w} height={h} style={{ position: 'absolute', left: l, top: t, width: w, height: h }} />;
}

export default function App() {
  return (
    <div style={{ position: 'absolute', left: 0, top: 0, width: 1027, height: 1043, background: '#fff', overflow: 'hidden' }}>
      {panels.map((p) => <PanelChart key={p.id} p={p} />)}
      <div style={{ position: 'absolute', left: 524, top: 500, font: `italic 36px ${FONT}`, lineHeight: '36px', color: '#111' }}>а)</div>
      <div style={{ position: 'absolute', left: 548, top: 1002, font: `italic 36px ${FONT}`, lineHeight: '36px', color: '#111' }}>б)</div>
    </div>
  );
}
